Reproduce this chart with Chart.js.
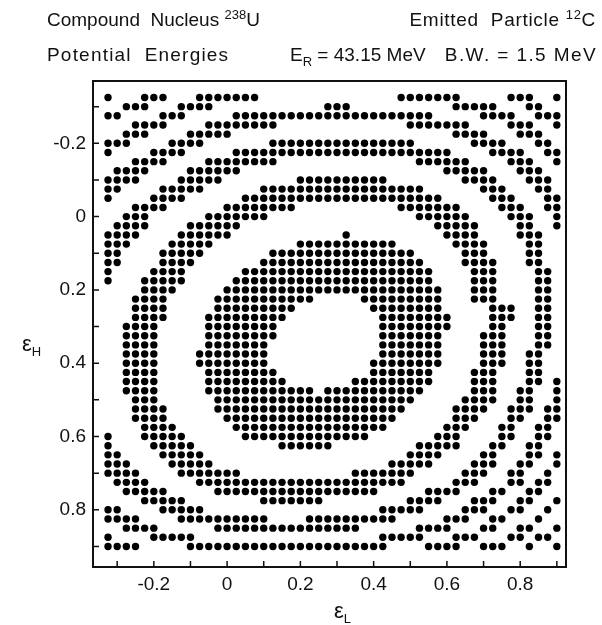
<!DOCTYPE html>
<html>
<head>
<meta charset="utf-8">
<script src="https://cdn.jsdelivr.net/npm/chart.js@4.4.1/dist/chart.umd.min.js"></script>
<style>
  html, body { margin: 0; padding: 0; background: #fff; }
  #wrap { position: relative; width: 602px; height: 625px; font-family: "Liberation Sans", sans-serif; color: #111; }
  #chart { position: absolute; left: 0; top: 0; }
  .t { position: absolute; font-size: 19px; line-height: 1; white-space: nowrap; }
  .t sup { font-size: 13px; vertical-align: 7px; line-height: 0; }
  .t sub { font-size: 13px; vertical-align: -5px; line-height: 0; }
</style>
</head>
<body>
<div id="wrap">
  <canvas id="chart" width="602" height="625"></canvas>
  <div class="t" style="left:47px;top:10px">Compound&nbsp; Nucleus <sup>238</sup>U</div>
  <div class="t" style="right:6px;top:10px;letter-spacing:0.7px">Emitted&nbsp; Particle <sup>12</sup>C</div>
  <div class="t" style="left:47px;top:45px;letter-spacing:1.2px">Potential&nbsp; Energies</div>
  <div class="t" style="left:290px;top:45px">E<sub>R</sub> = 43.15 MeV</div>
  <div class="t" style="right:5px;top:45px;letter-spacing:1.4px">B.W. = 1.5 MeV</div>
  <div class="t" style="left:22px;top:333px;font-size:22px">&epsilon;<sub>H</sub></div>
  <div class="t" style="left:334px;top:600px;font-size:22px">&epsilon;<sub>L</sub></div>
</div>
<script>
// grid levels (same for eps_L and eps_H), step 0.025
const gridLevels = [-0.325, -0.3, -0.275, -0.25, -0.225, -0.2, -0.175, -0.15, -0.125, -0.1,
  -0.075, -0.05, -0.025, 0, 0.025, 0.05, 0.075, 0.1, 0.125, 0.15,
  0.175, 0.2, 0.225, 0.25, 0.275, 0.3, 0.325, 0.35, 0.375, 0.4,
  0.425, 0.45, 0.475, 0.5, 0.525, 0.55, 0.575, 0.6, 0.625, 0.65,
  0.675, 0.7, 0.725, 0.75, 0.775, 0.8, 0.825, 0.85, 0.875, 0.9];

// one entry per eps_H row (top to bottom): runs of filled eps_L columns [from, to]
const rowRuns = [
  [[0,0],[4,6],[10,16],[32,38],[44,46],[49,49]],
  [[2,4],[8,11],[24,26],[38,42],[46,47]],
  [[0,1],[6,8],[14,35],[41,44],[47,49]],
  [[3,6],[11,18],[33,39],[44,46],[49,49]],
  [[2,4],[9,13],[38,41],[45,47]],
  [[0,2],[7,10],[18,33],[40,43],[47,48]],
  [[0,0],[5,8],[14,37],[42,45],[48,49]],
  [[3,6],[11,18],[34,39],[44,46],[49,49]],
  [[1,4],[9,14],[37,41],[45,47]],
  [[0,3],[8,12],[21,30],[39,42],[46,48]],
  [[0,1],[6,10],[17,34],[41,43],[47,48]],
  [[0,0],[5,8],[15,36],[42,44],[48,49]],
  [[3,6],[13,20],[32,38],[43,45],[48,49]],
  [[2,4],[11,17],[34,39],[44,46],[49,49]],
  [[1,4],[9,14],[36,40],[45,46],[49,49]],
  [[0,3],[8,13],[26,26],[37,40],[45,47]],
  [[0,2],[7,11],[21,31],[38,41],[46,47]],
  [[0,1],[6,10],[18,33],[39,41],[46,47]],
  [[0,1],[6,9],[17,34],[39,42],[46,47]],
  [[0,0],[5,8],[15,35],[40,42],[47,48]],
  [[0,0],[4,8],[14,35],[40,42],[47,48]],
  [[4,7],[13,36],[40,42],[47,48]],
  [[3,6],[12,22],[28,36],[40,42],[47,48]],
  [[3,6],[12,20],[29,36],[42,44],[47,48]],
  [[3,6],[11,19],[30,37],[42,44],[47,48]],
  [[2,5],[11,18],[30,37],[42,43],[47,48]],
  [[2,5],[11,18],[30,36],[41,43],[47,48]],
  [[2,5],[11,17],[30,36],[41,43],[47,48]],
  [[2,5],[10,17],[30,36],[41,43],[46,47]],
  [[2,5],[10,17],[29,36],[41,43],[46,47]],
  [[2,5],[11,18],[29,35],[40,42],[46,47]],
  [[2,5],[11,19],[27,35],[40,42],[46,47],[49,49]],
  [[2,5],[11,22],[24,34],[40,42],[45,46],[49,49]],
  [[3,5],[12,33],[39,42],[45,46],[49,49]],
  [[3,6],[12,32],[38,41],[44,46],[48,49]],
  [[3,6],[13,31],[38,40],[44,45],[48,49]],
  [[4,7],[14,30],[37,39],[43,44],[47,48]],
  [[0,0],[4,8],[15,28],[36,38],[43,44],[47,48]],
  [[0,0],[5,9],[19,24],[34,38],[42,43],[46,47]],
  [[0,1],[6,10],[33,36],[41,42],[46,47],[49,49]],
  [[0,2],[7,11],[31,35],[40,42],[45,46],[49,49]],
  [[0,3],[8,14],[27,33],[39,41],[44,45],[48,48]],
  [[1,4],[10,32],[38,40],[44,45],[47,48]],
  [[2,6],[12,29],[35,38],[42,43],[46,47]],
  [[4,8],[17,23],[33,36],[40,42],[45,46],[49,49]],
  [[0,1],[6,10],[30,34],[39,41],[44,45],[48,48]],
  [[0,3],[8,17],[22,31],[37,39],[42,43],[47,47]],
  [[2,5],[12,27],[34,37],[41,42],[45,46],[49,49]],
  [[0,0],[5,9],[30,34],[38,40],[44,45],[47,48]],
  [[0,3],[9,30],[35,38],[41,43],[46,46],[49,49]]
];

// axis ticks
const xTickValues = [-0.3, -0.2, -0.1, 0, 0.1, 0.2, 0.3, 0.4, 0.5, 0.6, 0.7, 0.8, 0.9];
const yTickValues = [-0.3, -0.2, -0.1, 0, 0.1, 0.2, 0.3, 0.4, 0.5, 0.6, 0.7, 0.8, 0.9];
const tickLabels = { '-0.2': '-0.2', '0': '0', '0.2': '0.2', '0.4': '0.4', '0.6': '0.6', '0.8': '0.8' };

const points = [];
rowRuns.forEach((runs, j) => {
  runs.forEach(([a, b]) => {
    for (let i = a; i <= b; i++) points.push({ x: gridLevels[i], y: gridLevels[j] });
  });
});

const labelFor = v => {
  const k = String(Math.round(v * 10) / 10);
  return tickLabels[k] !== undefined ? tickLabels[k] : '';
};

const framePlugin = {
  id: 'frame',
  afterDraw(chart) {
    const { ctx, chartArea: a, scales } = chart;
    ctx.save();
    ctx.strokeStyle = '#111';
    ctx.lineWidth = 2;
    ctx.strokeRect(a.left, a.top, a.right - a.left, a.bottom - a.top);
    ctx.lineWidth = 1.5;
    ctx.beginPath();
    xTickValues.forEach(v => {
      const px = scales.x.getPixelForValue(v);
      ctx.moveTo(px, a.bottom);
      ctx.lineTo(px, a.bottom - 6);
    });
    yTickValues.forEach(v => {
      const py = scales.y.getPixelForValue(v);
      ctx.moveTo(a.left, py);
      ctx.lineTo(a.left + 6, py);
    });
    ctx.stroke();
    ctx.restore();
  }
};

const tickFont = { family: '"Liberation Sans", sans-serif', size: 19 };

new Chart(document.getElementById('chart'), {
  type: 'scatter',
  data: {
    datasets: [{
      data: points,
      pointRadius: 3.7,
      pointHoverRadius: 3.7,
      pointBackgroundColor: '#000',
      pointBorderWidth: 0
    }]
  },
  options: {
    responsive: false,
    animation: false,
    layout: { padding: { top: 81, right: 36, left: 0, bottom: 0 } },
    scales: {
      x: {
        type: 'linear',
        min: -0.366,
        max: 0.925,
        afterBuildTicks: s => { s.ticks = xTickValues.map(v => ({ value: v })); },
        afterFit: s => { s.height = 58; },
        ticks: { callback: labelFor, font: tickFont, color: '#111', padding: 6, maxRotation: 0, autoSkip: false },
        grid: { display: false, drawTicks: false },
        border: { display: false }
      },
      y: {
        type: 'linear',
        reverse: true,
        min: -0.37,
        max: 0.956,
        afterBuildTicks: s => { s.ticks = yTickValues.map(v => ({ value: v })); },
        afterFit: s => { s.width = 93; },
        ticks: { callback: labelFor, font: tickFont, color: '#111', padding: 7, autoSkip: false },
        grid: { display: false, drawTicks: false },
        border: { display: false }
      }
    },
    plugins: { legend: { display: false }, tooltip: { enabled: false } }
  },
  plugins: [framePlugin]
});
</script>
</body>
</html>
